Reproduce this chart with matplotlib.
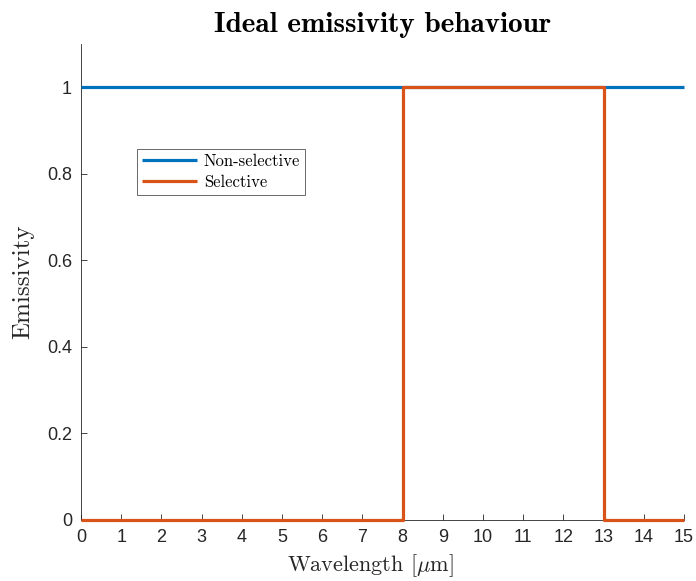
import matplotlib
matplotlib.use("Agg")
import matplotlib.pyplot as plt

# Emissivity profiles
wl_nonsel = [0, 15]
em_nonsel = [1, 1]
wl_sel = [0, 8, 8, 13, 13, 15]
em_sel = [0, 0, 1, 1, 0, 0]
xticks = list(range(0, 16))
yticks = [0, 0.2, 0.4, 0.6, 0.8, 1]
ytick_labels = ["0", "0.2", "0.4", "0.6", "0.8", "1"]

plt.rcParams["mathtext.fontset"] = "cm"
plt.rcParams["axes.unicode_minus"] = False

fig = plt.figure(figsize=(6.96, 5.81), dpi=100)
ax = fig.add_axes([0.1164, 0.105, 0.8664, 0.819])

blue = "#0072BD"
orange = "#D95319"
ax.plot(wl_nonsel, em_nonsel, color=blue, lw=2.3, label="Non-selective",
        solid_capstyle="butt", clip_on=False, zorder=3)
ax.plot(wl_sel, em_sel, color=orange, lw=2.3, label="Selective",
        solid_capstyle="butt", clip_on=False, zorder=4)

ax.set_xlim(0, 15)
ax.set_ylim(0, 1.1)
ax.set_xticks(xticks)
ax.set_yticks(yticks)
ax.set_yticklabels(ytick_labels)
for lab in ax.get_xticklabels() + ax.get_yticklabels():
    lab.set_fontfamily("Liberation Sans")
    lab.set_fontsize(13)
    lab.set_color("#262626")

ax.spines["top"].set_visible(False)
ax.spines["right"].set_visible(False)
for s in ("left", "bottom"):
    ax.spines[s].set_color("#262626")
    ax.spines[s].set_linewidth(0.6)
ax.tick_params(direction="in", length=4.5, width=0.6, color="#262626", pad=6.5)

ax.set_title("Ideal emissivity behaviour", fontfamily="cmb10", fontsize=21, pad=9)
ax.set_xlabel(r"Wavelength [$\mu$m]", fontfamily="cmr10", fontsize=16, color="#262626")
ax.xaxis.set_label_coords(0.48, -0.068)
ax.set_ylabel("Emissivity", fontfamily="cmr10", fontsize=18, color="#262626", labelpad=9)

leg = ax.legend(loc="upper left", bbox_to_anchor=(0.093, 0.78), prop={"family": "cmr10", "size": 12},
                frameon=True, fancybox=False, edgecolor="#262626", borderpad=0.3,
                handlelength=3.3, handletextpad=0.4, labelspacing=0.35, borderaxespad=0)
leg.get_frame().set_linewidth(0.6)

fig.savefig("out.png", dpi=100)
